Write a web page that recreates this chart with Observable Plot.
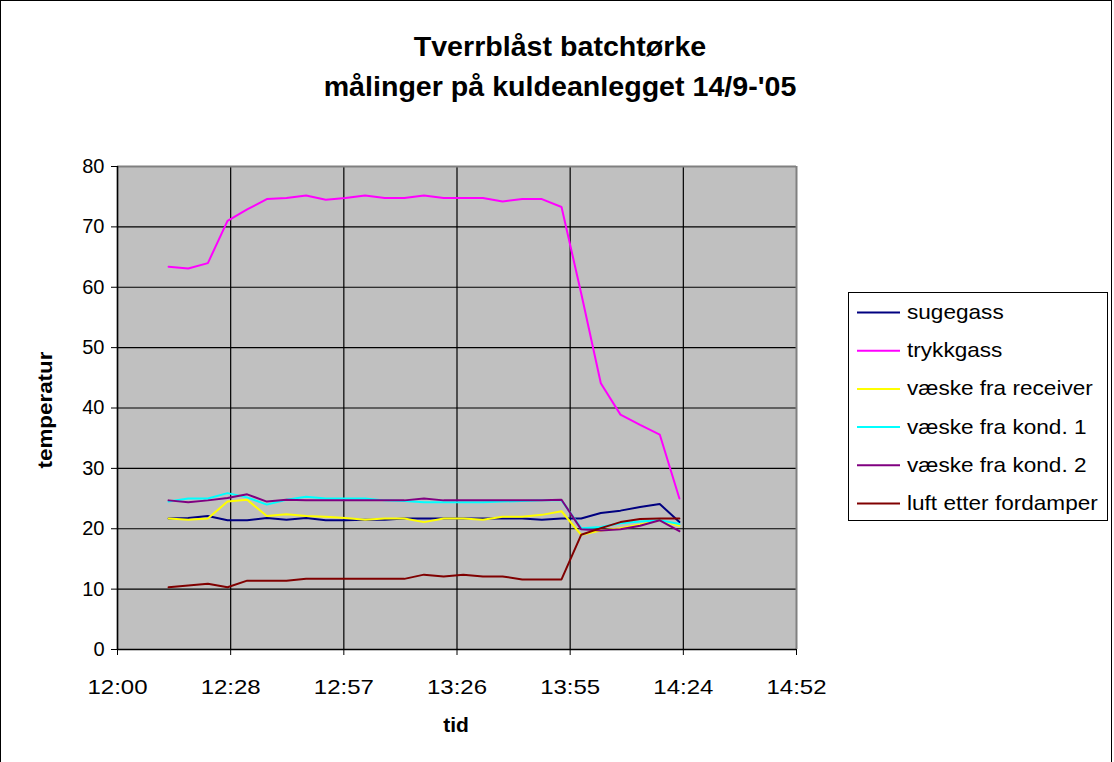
<!DOCTYPE html>
<html>
<head>
<meta charset="utf-8">
<script src="https://cdn.jsdelivr.net/npm/d3@7"></script>
<script src="https://cdn.jsdelivr.net/npm/@observablehq/plot@0.6"></script>
<style>
  html, body { margin: 0; padding: 0; background: #fff; }
  #chart { position: relative; width: 1114px; height: 762px; overflow: hidden; }
</style>
</head>
<body>
<div id="chart"></div>
<script>
// ---- Data ----
const titleLines = ["Tverrblåst batchtørke", "målinger på kuldeanlegget 14/9-'05"];
const xLabel = "tid";
const yLabel = "temperatur";

const times = ["12:13","12:18","12:23","12:28","12:33","12:38","12:43","12:48","12:53","12:58",
               "13:03","13:08","13:13","13:18","13:23","13:28","13:33","13:38","13:43","13:48",
               "13:53","13:58","14:03","14:08","14:13","14:18","14:23"];

const seriesNames = ["sugegass","trykkgass","væske fra receiver","væske fra kond. 1","væske fra kond. 2","luft etter fordamper"];
const seriesColors = ["#000080","#ff00ff","#ffff00","#00ffff","#800080","#800000"];

const sugegass = [21.7,21.8,22.1,21.4,21.4,21.8,21.5,21.8,21.4,21.4,21.5,21.5,21.7,21.7,21.7,21.7,21.7,21.7,21.7,21.5,21.7,21.7,22.6,23.0,23.6,24.1,21.1];
const trykkgass = [63.4,63.1,64.0,71.0,72.9,74.6,74.8,75.2,74.5,74.8,75.2,74.8,74.8,75.2,74.8,74.8,74.8,74.2,74.6,74.6,73.3,59.0,44.1,38.9,37.2,35.6,25.0];
const receiver = [21.7,21.5,21.7,24.5,24.8,22.1,22.4,22.1,22.0,21.8,21.5,21.7,21.7,21.1,21.7,21.7,21.5,22.0,22.0,22.3,22.9,19.0,19.7,20.1,20.7,21.4,20.5];
const kond1 = [24.5,25.0,25.0,25.9,25.2,24.0,24.8,25.3,25.0,25.0,25.0,24.7,24.6,24.4,24.4,24.4,24.4,24.5,24.6,24.7,24.7,20.1,20.3,20.9,21.2,21.4,20.8];
const kond2 = [24.7,24.4,24.7,25.1,25.7,24.5,24.8,24.7,24.7,24.7,24.7,24.7,24.7,25.0,24.7,24.7,24.7,24.7,24.7,24.7,24.8,19.9,19.7,19.9,20.5,21.4,19.6];
const luft = [10.3,10.6,10.9,10.3,11.4,11.4,11.4,11.7,11.7,11.7,11.7,11.7,11.7,12.4,12.1,12.4,12.1,12.1,11.6,11.6,11.6,19.0,20.1,21.1,21.6,21.7,21.7];

// Excel time axis: 0.50 to 0.62 day, major unit 0.02 day (28.8 min)
const xTickMinutes = [720, 748.8, 777.6, 806.4, 835.2, 864, 892.8];
const xTickLabels = ["12:00","12:28","12:57","13:26","13:55","14:24","14:52"];
const yTicks = [0,10,20,30,40,50,60,70,80];

// ---- Build table ----
const toMin = s => { const [h,m] = s.split(":").map(Number); return h*60+m; };
const seriesValues = [sugegass, trykkgass, receiver, kond1, kond2, luft];
const rows = [];
seriesNames.forEach((name, si) => {
  seriesValues[si].forEach((v, i) => rows.push({series: name, t: toMin(times[i]), v}));
});

const FONT = "'Liberation Sans', Arial, sans-serif";
const W = 1114, H = 762;
const mL = 117, mR = 318, mT = 166, mB = 113;

const plot = Plot.plot({
  width: W, height: H,
  marginLeft: mL, marginRight: mR, marginTop: mT, marginBottom: mB,
  style: {fontFamily: FONT, fontSize: "20px", color: "#000", background: "transparent"},
  x: {type: "linear", domain: [720, 892.8]},
  y: {domain: [0, 80]},
  color: {domain: seriesNames, range: seriesColors},
  marks: [
    Plot.frame({fill: "#c0c0c0", stroke: "none"}),
    Plot.gridX(xTickMinutes.slice(0, -1), {stroke: "#000", strokeOpacity: 1, strokeWidth: 1.2}),
    Plot.gridY(yTicks.slice(0, -1), {stroke: "#000", strokeOpacity: 1, strokeWidth: 1.2}),
    Plot.ruleX([892.8], {stroke: "#808080", strokeWidth: 2}),
    Plot.ruleY([80], {stroke: "#808080", strokeWidth: 2}),
    Plot.line(rows, {x: "t", y: "v", z: "series", stroke: "series", strokeWidth: 2, strokeLinejoin: "miter"}),
    Plot.ruleX([720], {stroke: "#000", strokeWidth: 1.5}),
    Plot.ruleY([0], {stroke: "#000", strokeWidth: 1.5}),
    Plot.axisX(xTickMinutes, {tickFormat: (d, i) => xTickLabels[i], tickSize: 6, tickPadding: 24, fontSize: 20, stroke: "#000", label: null, className: "xax"}),
    Plot.axisY(yTicks, {tickSize: 6, tickPadding: 7, fontSize: 20, stroke: "#000", label: null})
  ]
});

document.getElementById("chart").appendChild(plot);
const svg = d3.select(plot);

// widen x tick labels horizontally (the reference font is stretched)
svg.selectAll("g[aria-label='x-axis tick label'] text").each(function() {
  const tr = this.getAttribute("transform") || "";
  this.setAttribute("transform", tr + " scale(1.2,1)");
});

function addText(parent, x, y, str, opts) {
  const sx = opts.sx || 1;
  return parent.append("text")
    .attr("transform", `translate(${x},${y})${opts.rotate ? " rotate(" + opts.rotate + ")" : ""} scale(${sx},1)`)
    .attr("text-anchor", opts.anchor || "start")
    .attr("dominant-baseline", "central")
    .style("font-family", FONT)
    .style("font-weight", opts.bold ? "bold" : "normal")
    .style("font-size", opts.size + "px")
    .attr("fill", "#000")
    .text(str);
}

// outer chart border
svg.append("rect").attr("x", 0.5).attr("y", 0.5).attr("width", W - 3).attr("height", H + 10)
  .attr("fill", "none").attr("stroke", "#000").attr("stroke-width", 1);

// title
titleLines.forEach((t, i) => addText(svg, 560, 47 + i * 40, t, {anchor: "middle", bold: true, size: 27, sx: 1.06}));

// axis titles
addText(svg, 456, 725, xLabel, {anchor: "middle", bold: true, size: 20, sx: 1.05});
addText(svg, 45, 410, yLabel, {anchor: "middle", bold: true, size: 20, sx: 1.12, rotate: -90});

// legend
const lg = svg.append("g");
lg.append("rect").attr("x", 848.5).attr("y", 292.5).attr("width", 259).attr("height", 228)
  .attr("fill", "#fff").attr("stroke", "#000").attr("stroke-width", 1);
seriesNames.forEach((name, i) => {
  const cy = 312.5 + i * 38.2;
  lg.append("line").attr("x1", 857).attr("x2", 900).attr("y1", cy).attr("y2", cy)
    .attr("stroke", seriesColors[i]).attr("stroke-width", 2);
  addText(lg, 907, cy, name, {anchor: "start", size: 20, sx: 1.13});
});
</script>
</body>
</html>
